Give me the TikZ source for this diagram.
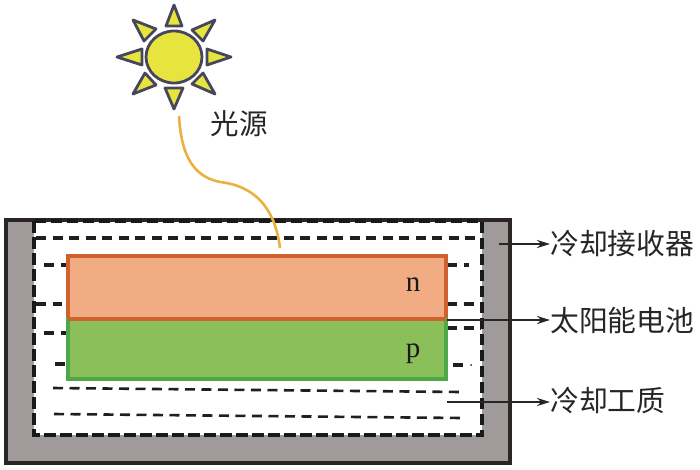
\documentclass[tikz,border=0pt]{standalone}
\usepackage{fontspec}
\newfontfamily\cjk{Noto Sans CJK SC}[Scale=1]
\newfontfamily\latinserif{Liberation Serif}
\usetikzlibrary{arrows.meta}
\definecolor{wallgray}{HTML}{A09A9B}
\definecolor{edgedark}{HTML}{2A2626}
\definecolor{norange}{HTML}{F2AC84}
\definecolor{nedge}{HTML}{D0602E}
\definecolor{pgreen}{HTML}{8BBF5A}
\definecolor{pedge}{HTML}{4FA848}
\definecolor{sunfill}{HTML}{E8E43E}
\definecolor{sunedge}{HTML}{46465E}
\definecolor{ray}{HTML}{EDB040}
\tikzset{
  x=1pt,y=-1pt,
  sunshape/.style={draw=sunedge,fill=sunfill,line width=2.8pt,line join=round},
  flow/.style={draw=black!88,line width=3.1pt,dash pattern=on 10pt off 6.5pt},
  slantflow/.style={draw=black!88,line width=2.6pt,dash pattern=on 10pt off 6.5pt},
  bound/.style={draw=black!90,line width=3.1pt,dash pattern=on 11.5pt off 4.5pt},
  callout/.style={draw=black!85,line width=2.6pt,-{Stealth[length=13pt,width=8pt]}},
  cnlabel/.style={font=\cjk\fontsize{28.8}{30}\selectfont,text=black!85,anchor=west,inner sep=0pt},
  letter/.style={font=\latinserif\fontsize{29}{31}\selectfont,text=black!90,inner sep=0pt},
}
\begin{document}
\begin{tikzpicture}
\useasboundingbox (0,0) rectangle (700,469);
% receiver
\fill[wallgray] (6,220) rectangle (510,463);
\fill[white] (34,221) rectangle (482,435);
\draw[edgedark,line width=3.1pt] (6,220) rectangle (510,463);
\draw[bound] (34,221) rectangle (482,435);
% coolant flow lines
\draw[flow] (36,238) -- (477,238);
\draw[flow] (44,265) -- (68,265);
\draw[flow] (447,265) -- (469,265);
\draw[flow] (36,304) -- (62,304);
\draw[flow] (447,304) -- (477,304);
\draw[flow] (44,333) -- (68,333);
\draw[flow] (447,328) -- (481,328);
\draw[flow] (55,364) -- (65,364);
\draw[flow] (453,365) -- (465,365);
\fill[black!85] (471,365) circle (1);
\draw[slantflow] (53,388) -- (461,392);
\draw[slantflow] (54,414) -- (462,418);
% cell
\node[draw=nedge,fill=norange,line width=3.1pt,minimum width=378pt,minimum height=63pt,inner sep=0pt] (nlayer) at (257,287.5) {};
\node[draw=pedge,fill=pgreen,line width=3.1pt,minimum width=378pt,minimum height=60pt,inner sep=0pt] (player) at (257,349) {};
\draw[nedge,line width=3.1pt] (68,319) -- (446,319);
\node[letter] (nlab) at (413,285) {n};
\node[letter] (plab) at (413,354) {p};
% sun
\draw[sunshape] (174,57) ellipse (28 and 26);
\draw[sunshape] (174,5) -- (182,26) -- (166,26) -- cycle;
\draw[sunshape] (174,109) -- (183,88) -- (165,88) -- cycle;
\draw[sunshape] (117,57) -- (142,49) -- (142,65) -- cycle;
\draw[sunshape] (231,57) -- (207,49) -- (207,65) -- cycle;
\draw[sunshape] (133,20) -- (156,29) -- (144,41) -- cycle;
\draw[sunshape] (215,20) -- (192,30) -- (203,41) -- cycle;
\draw[sunshape] (133,94) -- (145,73) -- (156,85) -- cycle;
\draw[sunshape] (215,94) -- (203,73) -- (192,84) -- cycle;
\node[font=\cjk\fontsize{28.5}{30}\selectfont,text=black!85,inner sep=0pt] (src) at (239,124) {光源};
% light ray
\draw[ray,line width=2.6pt] (179,116) .. controls (181,150) and (190,176) .. (220,182) .. controls (255,186) and (275,208) .. (280,248);
% labels
\node[cnlabel] (l1) at (550,244) {冷却接收器};
\node[cnlabel] (l2) at (550,321) {太阳能电池};
\node[cnlabel] (l3) at (550,401) {冷却工质};
\coordinate (s1) at (499,244);
\coordinate (s2) at (447,320);
\coordinate (s3) at (447,402);
\draw[callout] (s1) -- (s1-|l1.west);
\draw[callout] (s2) -- (s2-|l2.west);
\draw[callout] (s3) -- (s3-|l3.west);
\end{tikzpicture}
\end{document}
